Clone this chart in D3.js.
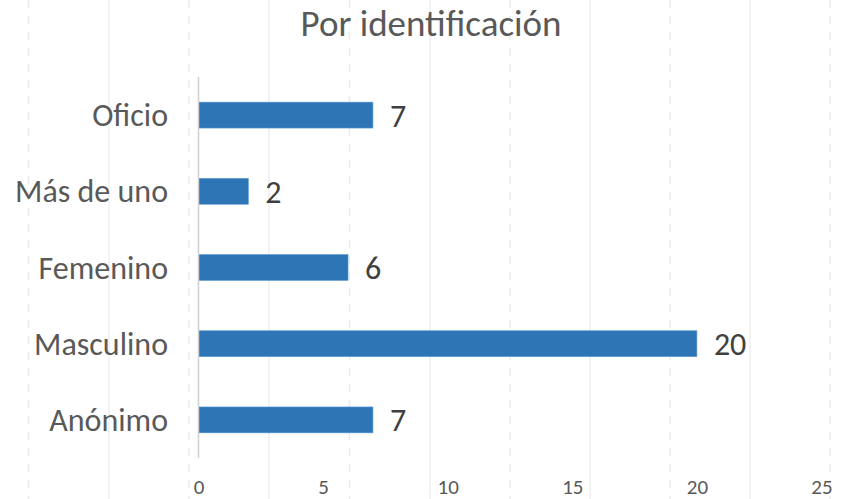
<!DOCTYPE html>
<html><head><meta charset="utf-8">
<script src="https://cdn.jsdelivr.net/npm/d3@7"></script>
<style>body{margin:0;background:#fff}svg{display:block}</style>
</head><body><svg id="c" width="841" height="499"></svg>
<script>
const categories = ["Oficio","Más de uno","Femenino","Masculino","Anónimo"];
const values = [7,2,6,20,7];
const xTicks = [0,5,10,15,20,25];
const title = "Por identificación";

const W=841,H=499;
const svg=d3.select("#c");
const font="Calibri, Carlito, Lato, sans-serif";
// background decorative grid
const bgDashed=[28.5,189,349.5,510,670,830];
const bgSolid=[109,269,430,590,750];
svg.selectAll("line.bd").data(bgDashed).join("line").attr("x1",d=>d).attr("x2",d=>d).attr("y1",0).attr("y2",H)
  .attr("stroke","#ebebeb").attr("stroke-width",1.5).attr("stroke-dasharray","8,8");
svg.selectAll("line.bs").data(bgSolid).join("line").attr("x1",d=>d).attr("x2",d=>d).attr("y1",0).attr("y2",H)
  .attr("stroke","#efefef").attr("stroke-width",1.5);

const x=d3.scaleLinear().domain([0,25]).range([198.5,821.5]);
const y=d3.scaleBand().domain(categories).range([77,458]).paddingInner(0.66).paddingOuter(0.33);

svg.append("text").attr("x",431).attr("y",36).attr("text-anchor","middle").attr("font-family",font)
  .attr("font-size",37).attr("fill","#595959").text(title);

svg.selectAll("rect.bar").data(values).join("rect").attr("class","bar")
  .attr("x",x(0)).attr("y",(d,i)=>y(categories[i])).attr("width",d=>x(d)-x(0)).attr("height",y.bandwidth())
  .attr("fill","#2E75B6").attr("stroke","#5b9bd5").attr("stroke-width",0.6);

svg.append("line").attr("x1",198.5).attr("x2",198.5).attr("y1",77).attr("y2",458).attr("stroke","#d0d0d0").attr("stroke-width",1.5);

svg.selectAll("text.val").data(values).join("text").attr("class","val")
  .attr("x",d=>x(d)+17).attr("y",(d,i)=>y(categories[i])+y.bandwidth()/2+11.5)
  .attr("font-family",font).attr("font-size",32).attr("fill","#404040").text(d=>d);

svg.selectAll("text.cat").data(categories).join("text").attr("class","cat")
  .attr("x",168).attr("y",d=>y(d)+y.bandwidth()/2+11).attr("text-anchor","end")
  .attr("font-family",font).attr("font-size",32).attr("fill","#595959").text(d=>d);

const ax=svg.append("g").attr("transform","translate(0,494)")
  .call(d3.axisBottom(x).tickValues(xTicks).tickSize(0).tickPadding(0));
ax.select(".domain").remove();
ax.selectAll("text").attr("font-family",font).attr("font-size",21).attr("fill","#595959").attr("dy","0");
</script></body></html>
